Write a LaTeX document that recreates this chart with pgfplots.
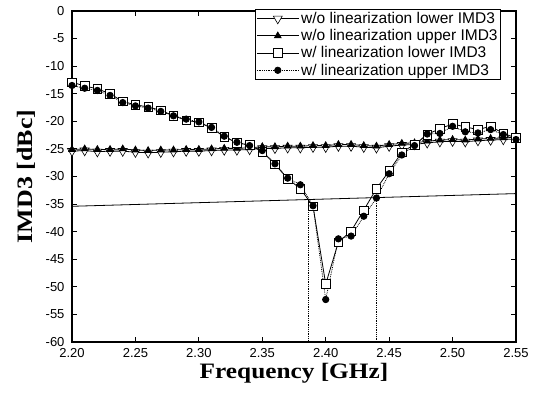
\documentclass[border=0pt]{standalone}
\usepackage{pgfplots}
\pgfplotsset{compat=1.18}
\usepackage{fontspec}
\setmainfont{Liberation Sans}
\newfontfamily\labelfont{Liberation Serif}

\begin{document}
\begin{tikzpicture}
\useasboundingbox (-72bp,-61bp) rectangle (465bp,342bp);
\begin{axis}[
    scale only axis,
    width=444bp, height=331bp,
    at={(0,0)}, anchor=south west,
    xmin=2.20, xmax=2.55,
    ymin=-60, ymax=0,
    xtick={2.20,2.25,...,2.55},
    ytick={-60,-55,...,0},
    minor tick num=0,
    tick align=inside,
    major tick length=5bp,
    axis line style={line width=1.2bp},
    every tick/.style={black, line width=1bp},
    xticklabel style={/pgf/number format/fixed, /pgf/number format/fixed zerofill,
        /pgf/number format/precision=2, yshift=-3bp},
    yticklabel style={xshift=-4bp},
    /pgf/number format/assume math mode=true,
    ticklabel style={font=\fontsize{13bp}{15bp}\selectfont},
    xlabel={\scalebox{1.15}[1]{\labelfont\bfseries Frequency [GHz]}},
    ylabel={\scalebox{1.18}[1]{\labelfont\bfseries IMD3 [dBc]}},
    label style={font=\fontsize{22bp}{26bp}\selectfont},
    xlabel style={at={(axis description cs:0.5,-0.063)}, anchor=north, inner sep=0pt},
    ylabel style={at={(axis description cs:-0.1036,0.5)}, anchor=center, inner sep=0pt},
    legend style={at={(rel axis cs:0.966,1.006)}, anchor=north east,
        draw=black, line width=0.6bp, fill=white, inner sep=1bp,
        font=\fontsize{15.5bp}{18bp}\selectfont, row sep=0.5bp,
        legend cell align=left},
    legend image code/.code={\draw[#1, mark repeat=2, mark phase=2]
        plot coordinates {(0bp,0bp) (21bp,0bp) (42bp,0bp)};},
]

% reference line and the two crossing markers
\addplot[black, line width=0.8bp, forget plot] coordinates {(2.20,-35.4) (2.55,-33.1)};
\addplot[black, densely dotted, line width=0.8bp, forget plot] coordinates {(2.386,-34.2) (2.386,-60)};
\addplot[black, densely dotted, line width=0.8bp, forget plot] coordinates {(2.440,-33.8) (2.440,-60)};

% w/o linearization lower IMD3
\addplot[black, line width=0.8bp, mark=triangle*, mark size=5.2bp,
    mark options={solid, rotate=180, fill=white, line width=0.6bp}] coordinates {
(2.20,-25.4)(2.21,-25.3)(2.22,-25.5)(2.23,-25.4)(2.24,-25.4)(2.25,-25.6)
(2.26,-25.7)(2.27,-25.6)(2.28,-25.5)(2.29,-25.4)(2.30,-25.4)(2.31,-25.3)
(2.32,-25.2)(2.33,-25.2)(2.34,-25.1)(2.35,-24.9)(2.36,-24.9)(2.37,-24.8)
(2.38,-24.8)(2.39,-24.7)(2.40,-24.7)(2.41,-24.5)(2.42,-24.5)(2.43,-24.7)
(2.44,-24.8)(2.45,-24.5)(2.46,-24.3)(2.47,-24.2)(2.48,-23.9)(2.49,-23.7)
(2.50,-23.6)(2.51,-23.7)(2.52,-23.5)(2.53,-23.4)(2.54,-23.3)(2.55,-23.2)
};
\addlegendentry{w/o linearization lower IMD3}

% w/o linearization upper IMD3
\addplot[black, line width=0.8bp, mark=triangle*, mark size=3.8bp,
    mark options={solid, fill=black}] coordinates {
(2.20,-25.1)(2.21,-25.0)(2.22,-25.1)(2.23,-25.1)(2.24,-25.0)(2.25,-25.2)
(2.26,-25.3)(2.27,-25.2)(2.28,-25.2)(2.29,-25.1)(2.30,-25.1)(2.31,-25.0)
(2.32,-24.9)(2.33,-24.9)(2.34,-24.8)(2.35,-24.6)(2.36,-24.6)(2.37,-24.5)
(2.38,-24.5)(2.39,-24.4)(2.40,-24.4)(2.41,-24.2)(2.42,-24.2)(2.43,-24.4)
(2.44,-24.5)(2.45,-24.2)(2.46,-24.0)(2.47,-23.9)(2.48,-23.6)(2.49,-23.4)
(2.50,-23.3)(2.51,-23.4)(2.52,-23.2)(2.53,-23.1)(2.54,-23.0)(2.55,-22.9)
};
\addlegendentry{w/o linearization upper IMD3}

% w/ linearization lower IMD3
\addplot[black, line width=0.8bp, mark=square*, mark size=4.3bp,
    mark options={solid, fill=white, line width=0.6bp}] coordinates {
(2.20,-12.9)(2.21,-13.6)(2.22,-14.1)(2.23,-15.0)(2.24,-16.4)(2.25,-17.0)
(2.26,-17.4)(2.27,-18.0)(2.28,-19.0)(2.29,-19.8)(2.30,-20.2)(2.31,-21.2)
(2.32,-22.8)(2.33,-23.9)(2.34,-24.3)(2.35,-25.5)(2.36,-27.8)(2.37,-30.4)
(2.38,-32.2)(2.39,-35.4)(2.40,-49.5)(2.41,-41.9)(2.42,-39.9)(2.43,-36.1)
(2.44,-32.2)(2.45,-29.0)(2.46,-25.6)(2.47,-24.2)(2.48,-22.4)(2.49,-21.3)
(2.50,-20.5)(2.51,-21.0)(2.52,-21.5)(2.53,-20.9)(2.54,-22.2)(2.55,-23.0)
};
\addlegendentry{w/ linearization lower IMD3}

% w/ linearization upper IMD3
\addplot[black, line width=0.8bp, densely dotted, mark=*, mark size=3.2bp,
    mark options={solid, fill=black}] coordinates {
(2.20,-13.5)(2.21,-14.0)(2.22,-14.4)(2.23,-15.3)(2.24,-16.6)(2.25,-17.2)
(2.26,-17.6)(2.27,-18.2)(2.28,-19.0)(2.29,-19.6)(2.30,-20.1)(2.31,-21.1)
(2.32,-22.7)(2.33,-23.8)(2.34,-24.4)(2.35,-25.3)(2.36,-27.7)(2.37,-30.3)
(2.38,-31.5)(2.39,-35.3)(2.40,-52.3)(2.41,-41.3)(2.42,-40.8)(2.43,-37.2)
(2.44,-33.9)(2.45,-29.5)(2.46,-26.1)(2.47,-24.4)(2.48,-22.3)(2.49,-22.2)
(2.50,-20.9)(2.51,-21.9)(2.52,-22.1)(2.53,-21.5)(2.54,-22.4)(2.55,-23.3)
};
\addlegendentry{w/ linearization upper IMD3}

\end{axis}
\end{tikzpicture}
\end{document}
